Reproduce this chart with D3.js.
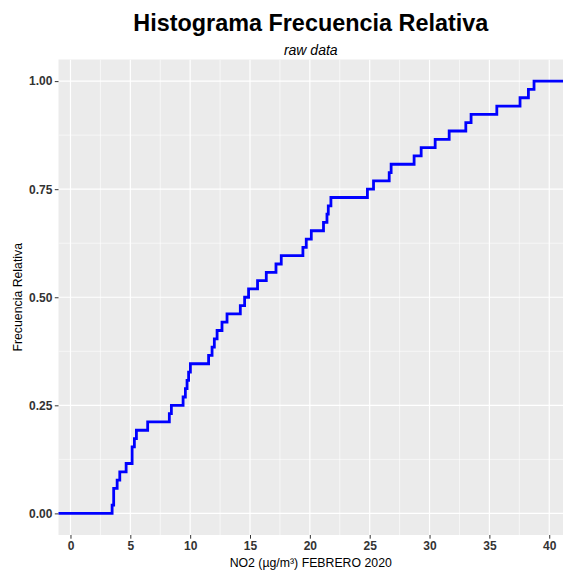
<!DOCTYPE html>
<html>
<head>
<meta charset="utf-8">
<script src="https://cdn.jsdelivr.net/npm/d3@7"></script>
<style>
  body { margin: 0; background: #fff; }
  svg { display: block; font-family: 'Liberation Sans', Arial, sans-serif; }
</style>
</head>
<body>
<div id="chart"></div>
<script>
// NO2 readings, febrero 2020 (52 values)
let no2Values = [3.48, 3.61, 3.61, 3.90, 4.12, 4.65, 5.15, 5.15, 5.34, 5.51,
                 6.45, 8.26, 8.43, 9.41, 9.60, 9.74, 9.87, 10.02, 11.54, 11.83,
                 12.02, 12.25, 12.66, 13.08, 14.19, 14.55, 14.88, 15.63, 16.36, 17.17,
                 17.61, 19.42, 19.70, 20.12, 21.14, 21.43, 21.54, 21.76, 24.81, 25.32,
                 26.63, 26.79, 28.71, 29.30, 30.47, 31.64, 33.03, 33.47, 35.62, 37.56,
                 38.26, 38.73]
let xTicks = [0, 5, 10, 15, 20, 25, 30, 35, 40]
let yTicks = [0, 0.25, 0.5, 0.75, 1]
let xMinor = [-2.5, 2.5, 7.5, 12.5, 17.5, 22.5, 27.5, 32.5, 37.5, 42.5]
let yMinor = [0.125, 0.375, 0.625, 0.875]

let title = 'Histograma Frecuencia Relativa'
let subtitle = 'raw data'
let xTitle = 'NO2 (µg/m³) FEBRERO 2020'
let yTitle = 'Frecuencia Relativa'

let size = { width: 563, height: 571 }
let panel = { left: 58.5, right: 563, top: 59.5, bottom: 535 }

let svg = d3.select('#chart').append('svg')
            .attr('width', size.width)
            .attr('height', size.height)

let widthScale = d3.scaleLinear()
                   .domain([-1, 41.15])
                   .range([panel.left, panel.right])
let heightScale = d3.scaleLinear()
                    .domain([-0.05, 1.05])
                    .range([panel.bottom, panel.top])

//panel background
svg.append('rect')
   .attr('x', panel.left)
   .attr('y', panel.top)
   .attr('width', panel.right - panel.left)
   .attr('height', panel.bottom - panel.top)
   .attr('fill', '#EBEBEB')

svg.append('clipPath')
   .attr('id', 'panelClip')
   .append('rect')
   .attr('x', panel.left)
   .attr('y', panel.top)
   .attr('width', panel.right - panel.left)
   .attr('height', panel.bottom - panel.top)

let grid = svg.append('g').attr('clip-path', 'url(#panelClip)')

//minor grid first, then major
grid.selectAll('line.xminor')
    .data(xMinor)
    .enter().append('line')
    .attr('class', 'xminor')
    .attr('x1', function(d){ return widthScale(d) })
    .attr('x2', function(d){ return widthScale(d) })
    .attr('y1', panel.top)
    .attr('y2', panel.bottom)
    .attr('stroke', '#fff')
    .attr('stroke-width', 0.6)
grid.selectAll('line.yminor')
    .data(yMinor)
    .enter().append('line')
    .attr('class', 'yminor')
    .attr('x1', panel.left)
    .attr('x2', panel.right)
    .attr('y1', function(d){ return heightScale(d) })
    .attr('y2', function(d){ return heightScale(d) })
    .attr('stroke', '#fff')
    .attr('stroke-width', 0.6)
grid.selectAll('line.xmajor')
    .data(xTicks)
    .enter().append('line')
    .attr('class', 'xmajor')
    .attr('x1', function(d){ return widthScale(d) })
    .attr('x2', function(d){ return widthScale(d) })
    .attr('y1', panel.top)
    .attr('y2', panel.bottom)
    .attr('stroke', '#fff')
    .attr('stroke-width', 1.2)
grid.selectAll('line.ymajor')
    .data(yTicks)
    .enter().append('line')
    .attr('class', 'ymajor')
    .attr('x1', panel.left)
    .attr('x2', panel.right)
    .attr('y1', function(d){ return heightScale(d) })
    .attr('y2', function(d){ return heightScale(d) })
    .attr('stroke', '#fff')
    .attr('stroke-width', 1.2)

//ecdf points, padded to the panel edges like stat_ecdf does
let sorted = no2Values.slice().sort(d3.ascending)
let n = sorted.length
let ecdf = [[widthScale.domain()[0] - 1, 0]]
sorted.forEach(function(v, i){ ecdf.push([v, (i + 1) / n]) })
ecdf.push([widthScale.domain()[1] + 1, 1])

let stepLine = d3.line()
                 .x(function(d){ return widthScale(d[0]) })
                 .y(function(d){ return heightScale(d[1]) })
                 .curve(d3.curveStepAfter)

grid.append('path')
    .datum(ecdf)
    .attr('d', stepLine)
    .attr('fill', 'none')
    .attr('stroke', '#0000FF')
    .attr('stroke-width', 2.8)
    .attr('stroke-linejoin', 'miter')

//axes
let xAxis = svg.append('g')
               .attr('transform', 'translate(0,' + panel.bottom + ')')
               .call(d3.axisBottom(widthScale).tickValues(xTicks).tickSize(3.7).tickPadding(3))
let yAxis = svg.append('g')
               .attr('transform', 'translate(' + panel.left + ',0)')
               .call(d3.axisLeft(heightScale).tickValues(yTicks).tickSize(3.7).tickPadding(2.5)
                       .tickFormat(d3.format('.2f')))

;[xAxis, yAxis].forEach(function(axis){
  axis.select('.domain').remove()
  axis.selectAll('.tick line').attr('stroke', '#333').attr('stroke-width', 1)
  axis.selectAll('.tick text')
      .style('font-family', "'Liberation Sans', Arial, sans-serif")
      .style('font-size', '12px')
      .style('font-weight', 'bold')
      .style('fill', '#333')
})

let panelCenter = (panel.left + panel.right) / 2

svg.append('text')
   .attr('x', panelCenter)
   .attr('y', 30.5)
   .style('text-anchor', 'middle')
   .style('font-size', '23.4px')
   .style('font-weight', 'bold')
   .style('fill', '#000')
   .text(title)

svg.append('text')
   .attr('x', panelCenter)
   .attr('y', 54.5)
   .style('text-anchor', 'middle')
   .style('font-size', '14px')
   .style('font-style', 'italic')
   .style('fill', '#000')
   .text(subtitle)

svg.append('text')
   .attr('x', panelCenter)
   .attr('y', 566.5)
   .style('text-anchor', 'middle')
   .style('font-size', '12.3px')
   .style('fill', '#000')
   .text(xTitle)

svg.append('text')
   .attr('transform', 'translate(22,' + (panel.top + panel.bottom) / 2 + ') rotate(-90)')
   .style('text-anchor', 'middle')
   .style('font-size', '12.3px')
   .style('fill', '#000')
   .text(yTitle)
</script>
</body>
</html>
